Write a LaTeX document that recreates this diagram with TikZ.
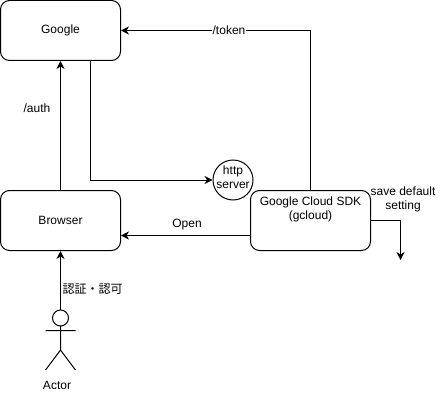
\documentclass[tikz,border=0pt]{standalone}
\usepackage{fontspec}
\setmainfont{Liberation Sans}
\newfontfamily\cjk{Noto Sans CJK JP}
\usetikzlibrary{positioning,arrows.meta,calc}
\begin{document}
\begin{tikzpicture}[x=1pt,y=-1pt,font=\fontsize{12}{14}\selectfont,line width=1pt,
  box/.style={draw,rounded corners=9pt,align=center,minimum width=120pt,minimum height=60pt,inner sep=0pt},
  server/.style={draw,circle,minimum size=40pt,inner sep=0pt},
  head/.style={draw,circle,minimum size=16pt,inner sep=0pt},
  lbl/.style={align=center,inner sep=0pt},
  link/.style={-{Stealth[length=8pt,width=8pt,inset=2.5pt]}}]
\useasboundingbox (0,0) rectangle (446,409);
\node[box] (google) at (60.5,30.5) {Google};
\node[box] (browser) at (60.5,220.5) {Browser};
\node[server] (http) at (233,180) {};
\node[lbl] (httplabel) at (233,177.5) {http\\server};
\node[box] (sdk) at (310.5,220.5) {};
\node[lbl] (sdklabel) at (310.5,209) {Google Cloud SDK\\(gcloud)};
\node[head] (actor) at (60.5,318) {};
\coordinate (neck) at (60.5,326);
\coordinate (hip) at (60.5,350);
\coordinate (armleft) at (45.5,330.5);
\coordinate (armright) at (75.5,330.5);
\coordinate (legleft) at (45.5,370);
\coordinate (legright) at (75.5,370);
\coordinate (savecorner) at (400.5,220.5);
\coordinate (saveend) at (400.5,260);
\draw (neck)--(hip) (armleft)--(armright) (legleft)--(hip)--(legright);
\node[lbl] (actorlabel) at (57,385) {Actor};
\draw[link] (actor)--(browser);
\draw[link] (browser)--(google);
\draw[link] ($(google.south)+(30,0)$) |- (http);
\draw[link] (sdk.north) |- (google.east);
\draw[link] (sdk.west |- 0,235.5) -- (browser.east |- 0,235.5);
\draw[link] (sdk.east) -| (savecorner) -- (saveend);
\node[lbl] (auth) at (37,108) {/auth};
\node[lbl,fill=white,inner sep=1pt] (token) at (229,30.5) {/token};
\node[lbl] (open) at (187,225) {Open};
\node[lbl] (save) at (403,199) {save default\\setting};
\node[lbl,font=\fontsize{12}{14}\selectfont\cjk] (permit) at (92.5,289) {認証・認可};
\end{tikzpicture}
\end{document}
